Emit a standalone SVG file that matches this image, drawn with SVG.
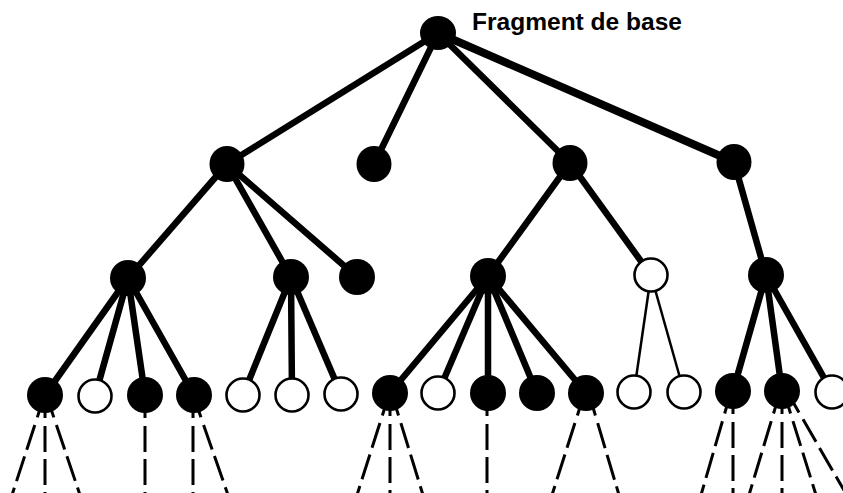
<svg xmlns="http://www.w3.org/2000/svg" width="843" height="493" viewBox="0 0 843 493">
<style>
.e{stroke:#000;stroke-width:6.5;stroke-linecap:round;fill:none}
.ew{stroke:#000;stroke-width:8;stroke-linecap:round;fill:none}
.et{stroke:#000;stroke-width:2.5;fill:none}
.d{stroke:#000;stroke-width:3;fill:none;stroke-dasharray:12 8 26 7 26 7 26 7}
.f{fill:#000}
.o{fill:#fff;stroke:#000;stroke-width:2.6}
.lbl{font-family:"Liberation Sans",Arial,sans-serif;font-weight:bold;font-size:24px;fill:#000}
</style>
<rect width="843" height="493" fill="#fff"/>
<g id="connectors">
<line class="e" x1="438" y1="33" x2="227" y2="164"/>
<line class="e" x1="438" y1="33" x2="374" y2="164"/>
<line class="e" x1="438" y1="33" x2="570" y2="163"/>
<line class="ew" x1="438" y1="33" x2="734" y2="162"/>
<line class="e" x1="227" y1="164" x2="128" y2="278"/>
<line class="e" x1="227" y1="164" x2="291" y2="277"/>
<line class="e" x1="227" y1="164" x2="357" y2="277"/>
<line class="e" x1="570" y1="163" x2="488" y2="276"/>
<line class="e" x1="570" y1="163" x2="651" y2="275"/>
<line class="e" x1="734" y1="162" x2="766" y2="275"/>
<line class="e" x1="128" y1="278" x2="45" y2="395"/>
<line class="e" x1="128" y1="278" x2="95" y2="396"/>
<line class="e" x1="128" y1="278" x2="145" y2="395"/>
<line class="e" x1="128" y1="278" x2="194" y2="395"/>
<line class="e" x1="291" y1="277" x2="243" y2="395"/>
<line class="e" x1="291" y1="277" x2="292" y2="395"/>
<line class="e" x1="291" y1="277" x2="341" y2="394"/>
<line class="e" x1="488" y1="276" x2="390" y2="393"/>
<line class="e" x1="488" y1="276" x2="438" y2="393"/>
<line class="e" x1="488" y1="276" x2="488" y2="393"/>
<line class="e" x1="488" y1="276" x2="537" y2="393"/>
<line class="e" x1="488" y1="276" x2="586" y2="393"/>
<line class="et" x1="651" y1="275" x2="634" y2="392"/>
<line class="et" x1="651" y1="275" x2="684" y2="392"/>
<line class="e" x1="766" y1="275" x2="733" y2="391"/>
<line class="e" x1="766" y1="275" x2="782" y2="391"/>
<line class="e" x1="766" y1="275" x2="832" y2="392"/>
<line class="d" x1="41" y1="406" x2="12" y2="495"/>
<line class="d" x1="45" y1="406" x2="45" y2="495"/>
<line class="d" x1="50" y1="406" x2="80" y2="495"/>
<line class="d" x1="145" y1="406" x2="145" y2="495"/>
<line class="d" x1="193" y1="406" x2="193" y2="495"/>
<line class="d" x1="197" y1="406" x2="228" y2="495"/>
<line class="d" x1="386" y1="404" x2="357" y2="495"/>
<line class="d" x1="390" y1="404" x2="390" y2="495"/>
<line class="d" x1="395" y1="404" x2="423" y2="495"/>
<line class="d" x1="487" y1="404" x2="487" y2="495"/>
<line class="d" x1="581" y1="404" x2="552" y2="495"/>
<line class="d" x1="592" y1="404" x2="619" y2="495"/>
<line class="d" x1="728" y1="402" x2="701" y2="495"/>
<line class="d" x1="733" y1="402" x2="733" y2="495"/>
<line class="d" x1="777" y1="402" x2="749" y2="495"/>
<line class="d" x1="782" y1="402" x2="782" y2="495"/>
<line class="d" x1="787" y1="402" x2="816" y2="495"/>
<line class="d" x1="793" y1="402" x2="845" y2="492"/>
</g>
<g id="n0"><ellipse class="f" cx="438" cy="33" rx="18" ry="17"/><text class="lbl" x="472" y="30" textLength="210" lengthAdjust="spacingAndGlyphs">Fragment de base</text></g>
<g id="n1"><ellipse class="f" cx="227" cy="164" rx="17.5" ry="18"/></g>
<g id="n2"><ellipse class="f" cx="374" cy="164" rx="17.5" ry="18"/></g>
<g id="n3"><ellipse class="f" cx="570" cy="163" rx="17.5" ry="18"/></g>
<g id="n4"><ellipse class="f" cx="734" cy="162" rx="17.5" ry="18"/></g>
<g id="n5"><circle class="f" cx="128" cy="278" r="18"/></g>
<g id="n6"><circle class="f" cx="291" cy="277" r="18"/></g>
<g id="n7"><circle class="f" cx="357" cy="277" r="18"/></g>
<g id="n8"><circle class="f" cx="488" cy="276" r="18"/></g>
<g id="n9"><circle class="o" cx="651" cy="275" r="16.5"/></g>
<g id="n10"><circle class="f" cx="766" cy="275" r="18"/></g>
<g id="n11"><circle class="f" cx="45" cy="395" r="18"/></g>
<g id="n12"><circle class="o" cx="95" cy="396" r="16.5"/></g>
<g id="n13"><circle class="f" cx="145" cy="395" r="18"/></g>
<g id="n14"><circle class="f" cx="194" cy="395" r="18"/></g>
<g id="n15"><circle class="o" cx="243" cy="395" r="16.5"/></g>
<g id="n16"><circle class="o" cx="292" cy="395" r="16.5"/></g>
<g id="n17"><circle class="o" cx="341" cy="394" r="16.5"/></g>
<g id="n18"><circle class="f" cx="390" cy="393" r="18"/></g>
<g id="n19"><circle class="o" cx="438" cy="393" r="16.5"/></g>
<g id="n20"><circle class="f" cx="488" cy="393" r="18"/></g>
<g id="n21"><circle class="f" cx="537" cy="393" r="18"/></g>
<g id="n22"><circle class="f" cx="586" cy="393" r="18"/></g>
<g id="n23"><circle class="o" cx="634" cy="392" r="16.5"/></g>
<g id="n24"><circle class="o" cx="684" cy="392" r="16.5"/></g>
<g id="n25"><circle class="f" cx="733" cy="391" r="18"/></g>
<g id="n26"><circle class="f" cx="782" cy="391" r="18"/></g>
<g id="n27"><circle class="o" cx="832" cy="392" r="16.5"/></g>
</svg>
